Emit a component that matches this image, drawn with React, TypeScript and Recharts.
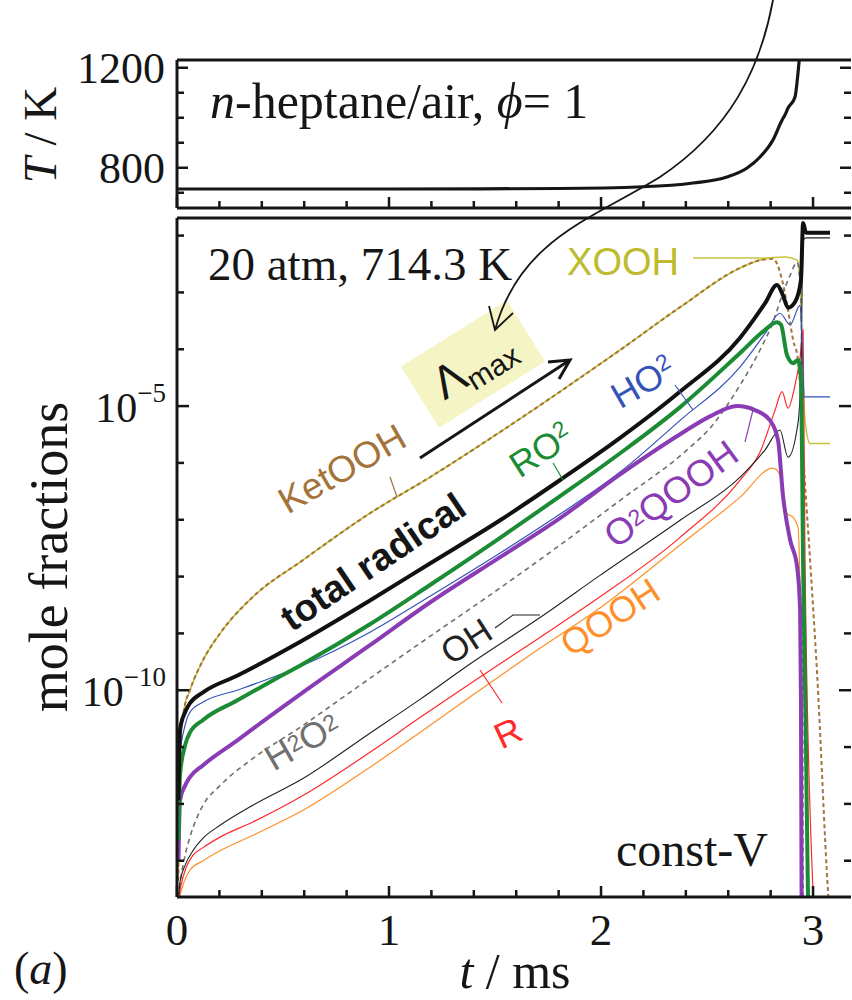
import { LineChart, Line, XAxis, YAxis } from "recharts";

const SERIF = '"Liberation Serif", "Times New Roman", serif';
const SANS = '"Liberation Sans", Arial, sans-serif';
const INK = "#161616";

// time axis, ms
const timeDomain = [0, 3.179];
const timeTicks = [0, 0.2, 0.4, 0.6, 0.8, 1, 1.2, 1.4, 1.6, 1.8, 2, 2.2, 2.4, 2.6, 2.8, 3];

// top panel: temperature
const tempTime = [0, 1.0, 1.8, 2.198, 2.434, 2.594, 2.689, 2.75, 2.811, 2.854, 2.868, 2.882, 2.915, 2.929, 2.934, 2.945];
const tempKelvin = [715, 715, 717, 724, 739, 763, 799, 843, 911, 991, 1012, 1039, 1083, 1179, 1223, 1300];
const tempDomain = [639, 1231];
const tempTicks = [700, 800, 900, 1000, 1100, 1200];
const tempLabelled = [800, 1200];

// bottom panel: mole fractions (log)
const fracDomain = [2.3e-14, 2.04e-2];
const fracTicks = [1e-13, 1e-12, 1e-11, 1e-10, 1e-9, 1e-8, 1e-7, 1e-6, 1e-5, 1e-4, 1e-3, 1e-2];
const fracLabelled = [-10, -5];

const radicalTime = [0.007, 0.014, 0.038, 0.061, 0.123, 0.283, 0.594, 0.91, 1.193, 1.524, 1.807, 2.09, 2.373, 2.656, 2.774, 2.83, 2.858, 2.882, 2.915, 2.943, 2.953, 2.967, 3.08];
const radicalFrac = [1.15e-12, 2.0e-11, 4.1e-11, 5.9e-11, 9.2e-11, 1.8e-10, 7.6e-10, 3.8e-9, 1.7e-8, 9.8e-8, 5.0e-7, 2.75e-6, 1.8e-5, 1.6e-4, 6.5e-4, 1.35e-3, 8.9e-4, 5.4e-4, 6.8e-4, 1.66e-3, 1.66e-2, 1.12e-2, 1.12e-2];

const ketTime = [0.006, 0.014, 0.033, 0.061, 0.123, 0.203, 0.358, 0.594, 0.91, 1.193, 1.524, 1.807, 2.09, 2.373, 2.656, 2.75, 2.811, 2.854, 2.882, 2.906, 2.929, 2.943, 2.953, 2.986, 3.019, 3.071, 3.08];
const ketFrac = [4.5e-14, 1.0e-11, 4.5e-11, 1.0e-10, 3.4e-10, 1.0e-9, 4.4e-9, 1.95e-8, 1.3e-7, 5.6e-7, 3.5e-6, 1.8e-5, 9.7e-5, 5.5e-4, 2.7e-3, 3.7e-3, 3.9e-3, 1.65e-3, 4.9e-4, 1.45e-4, 6.5e-5, 1.3e-5, 1.9e-6, 1.95e-8, 2.0e-10, 2.7e-14, 8.9e-15];

const xoohTime = [0.006, 0.014, 0.033, 0.061, 0.123, 0.203, 0.358, 0.594, 0.91, 1.193, 1.524, 1.807, 2.09, 2.373, 2.656, 2.75, 2.811, 2.868, 2.925, 2.939, 2.948, 2.962, 2.986, 3.08];
const xoohFrac = [4.5e-14, 1.0e-11, 4.5e-11, 1.0e-10, 3.4e-10, 1.0e-9, 4.4e-9, 1.95e-8, 1.3e-7, 5.6e-7, 3.5e-6, 1.8e-5, 9.7e-5, 5.5e-4, 2.7e-3, 3.7e-3, 4.1e-3, 4.2e-3, 3.7e-3, 1.65e-3, 9.7e-5, 5.6e-6, 2.2e-6, 2.2e-6];

const ho2Time = [0.007, 0.014, 0.038, 0.061, 0.123, 0.283, 0.415, 0.594, 0.91, 1.193, 1.524, 1.807, 2.09, 2.373, 2.656, 2.774, 2.844, 2.892, 2.939, 2.948, 2.958, 3.08];
const ho2Frac = [5.1e-13, 7.2e-12, 2.4e-11, 4.1e-11, 6.2e-11, 1.0e-10, 1.5e-10, 2.75e-10, 1.05e-9, 4.5e-9, 2.6e-8, 1.26e-7, 6.9e-7, 5.6e-6, 4.9e-5, 1.9e-4, 4.3e-4, 2.7e-4, 6.0e-4, 1.45e-4, 1.45e-5, 1.45e-5];

const ro2Time = [0.007, 0.014, 0.038, 0.061, 0.123, 0.283, 0.439, 0.594, 0.91, 1.193, 1.524, 1.807, 2.09, 2.373, 2.656, 2.774, 2.83, 2.849, 2.877, 2.906, 2.929, 2.943, 2.953, 2.967, 2.976, 2.981];
const ro2Frac = [2.3e-13, 3.2e-12, 1.07e-11, 1.8e-11, 3.0e-11, 6.6e-11, 1.4e-10, 2.9e-10, 1.45e-9, 7.1e-9, 4.8e-8, 2.6e-7, 1.48e-6, 9.6e-6, 8.6e-5, 2.2e-4, 3.0e-4, 2.7e-4, 7.9e-5, 5.7e-5, 6.5e-5, 2.9e-5, 1.95e-8, 8.7e-12, 2.7e-14, 8.9e-15];

const o2qoohTime = [0.007, 0.014, 0.038, 0.061, 0.123, 0.283, 0.439, 0.594, 0.91, 1.193, 1.524, 1.807, 2.09, 2.373, 2.514, 2.642, 2.726, 2.797, 2.835, 2.858, 2.892, 2.925, 2.939, 2.943, 2.946, 2.948];
const o2qoohFrac = [1.0e-13, 1.15e-12, 2.1e-12, 2.95e-12, 4.8e-12, 1.3e-11, 3.5e-11, 9.2e-11, 6.2e-10, 3.5e-9, 2.2e-8, 1.07e-7, 6.3e-7, 3.2e-6, 6.6e-6, 1.0e-5, 8.5e-6, 5.6e-6, 2.5e-6, 2.7e-7, 4.4e-8, 1.47e-8, 2.6e-9, 6.6e-11, 2.0e-14, 8.9e-15];

const h2o2Time = [0.008, 0.014, 0.038, 0.061, 0.123, 0.203, 0.358, 0.594, 0.83, 1.146, 1.524, 1.807, 2.09, 2.406, 2.514, 2.656, 2.75, 2.811, 2.858, 2.892, 2.925, 2.943, 2.95, 2.953, 2.955];
const h2o2Frac = [2.3e-14, 3.7e-14, 1.24e-13, 2.6e-13, 9.5e-13, 2.1e-12, 6.3e-12, 2.4e-11, 1.0e-10, 6.7e-10, 6.3e-9, 3.6e-8, 2.2e-7, 1.7e-6, 4.1e-6, 2.35e-5, 9.7e-5, 3.0e-4, 9.8e-4, 2.0e-3, 3.4e-3, 7.4e-4, 2.2e-7, 2.3e-14, 8.9e-15];

const ohTime = [0.008, 0.014, 0.038, 0.075, 0.123, 0.203, 0.358, 0.594, 0.91, 1.146, 1.382, 1.712, 1.995, 2.373, 2.656, 2.774, 2.844, 2.882, 2.929, 2.943, 2.953, 2.967, 3.08];
const ohFrac = [2.3e-14, 4.2e-14, 8.3e-14, 1.5e-13, 2.5e-13, 4.2e-13, 9.5e-13, 2.8e-12, 1.75e-11, 6.9e-11, 2.9e-10, 1.9e-9, 1.05e-8, 9.8e-8, 5.6e-7, 1.7e-6, 3.8e-6, 1.26e-6, 5.0e-6, 4.3e-5, 8.3e-3, 9.1e-3, 9.1e-3];

const rTime = [0.009, 0.019, 0.042, 0.075, 0.123, 0.203, 0.358, 0.594, 0.91, 1.146, 1.382, 1.712, 1.995, 2.373, 2.656, 2.75, 2.821, 2.854, 2.882, 2.915, 2.939, 2.953, 2.962, 3.0, 3.005];
const rFrac = [2.3e-14, 3.7e-14, 7.4e-14, 1.24e-13, 1.7e-13, 2.6e-13, 4.8e-13, 1.4e-12, 8.1e-12, 3.3e-11, 1.3e-10, 8.5e-10, 4.4e-9, 4.9e-8, 5.0e-7, 1.55e-6, 8.5e-6, 1.8e-5, 9.2e-6, 2.35e-5, 7.3e-5, 2.2e-4, 1.95e-8, 2.7e-14, 8.9e-15];

const qoohTime = [0.012, 0.028, 0.061, 0.123, 0.203, 0.358, 0.594, 0.91, 1.146, 1.382, 1.712, 1.995, 2.373, 2.656, 2.811, 2.844, 2.877, 2.906, 2.929, 2.939, 2.943, 2.948, 2.95];
const qoohFrac = [2.3e-14, 3.7e-14, 6.8e-14, 1.0e-13, 1.5e-13, 2.8e-13, 7.7e-13, 4.4e-12, 1.8e-11, 7.6e-11, 5.5e-10, 2.8e-9, 3.6e-8, 2.5e-7, 8.1e-7, 6.1e-7, 1.3e-7, 1.1e-7, 7.4e-8, 3.8e-9, 8.7e-12, 2.3e-14, 8.9e-15];

const zip = (ts: number[], vs: number[]) => ts.map((t, i) => ({ t, v: vs[i] }));

const tempData = zip(tempTime, tempKelvin);

// drawing order: thin lines first, thick ones on top
const species = [
  { key: "xooh", data: zip(xoohTime, xoohFrac), color: "#c6c43c", width: 1.6 },
  { key: "ket", data: zip(ketTime, ketFrac), color: "#a3733a", width: 2, dash: "4 3" },
  { key: "h2o2", data: zip(h2o2Time, h2o2Frac), color: "#707070", width: 1.6, dash: "5 4" },
  { key: "qooh", data: zip(qoohTime, qoohFrac), color: "#ff8f2a", width: 1.2 },
  { key: "r", data: zip(rTime, rFrac), color: "#ff2a2a", width: 1.2 },
  { key: "oh", data: zip(ohTime, ohFrac), color: "#222222", width: 1.1 },
  { key: "ho2", data: zip(ho2Time, ho2Frac), color: "#3552b8", width: 1.2 },
  { key: "o2qooh", data: zip(o2qoohTime, o2qoohFrac), color: "#8a3cb4", width: 4 },
  { key: "ro2", data: zip(ro2Time, ro2Frac), color: "#1c8c34", width: 4 },
  { key: "radical", data: zip(radicalTime, radicalFrac), color: "#111111", width: 4 },
];

const isMajorTime = (v: number) => Math.abs(v - Math.round(v)) < 1e-6;

// ticks point into the frame; labels only where the reference has them
function timeTick(side: "top" | "bottom", labels: boolean) {
  return (p: any) => {
    const v = p.payload.value;
    const major = isMajorTime(v);
    const dir = side === "bottom" ? -1 : 1;
    return (
      <g>
        <line x1={p.x} x2={p.x} y1={p.y} y2={p.y + dir * (major ? 11 : 7)} stroke={INK} strokeWidth={2.5} />
        {labels && major && (
          <text x={p.x} y={p.y + 48} textAnchor="middle" fontFamily={SERIF} fontSize={45} fill={INK}>
            {Math.round(v)}
          </text>
        )}
      </g>
    );
  };
}

function tempTick(side: "left" | "right") {
  return (p: any) => {
    const v = p.payload.value;
    const major = tempLabelled.includes(v);
    const dir = side === "left" ? 1 : -1;
    return (
      <g>
        <line x1={p.x} x2={p.x + dir * (major ? 11 : 7)} y1={p.y} y2={p.y} stroke={INK} strokeWidth={2.5} />
        {side === "left" && major && (
          <text x={p.x - 12} y={p.y + 15} textAnchor="end" fontFamily={SERIF} fontSize={44} fill={INK}>
            {v}
          </text>
        )}
      </g>
    );
  };
}

function fracTick(side: "left" | "right") {
  return (p: any) => {
    const exp = Math.round(Math.log10(p.payload.value));
    const major = fracLabelled.includes(exp);
    const dir = side === "left" ? 1 : -1;
    return (
      <g>
        <line x1={p.x} x2={p.x + dir * (major ? 12 : 7)} y1={p.y} y2={p.y} stroke={INK} strokeWidth={2.5} />
        {side === "left" && major && (
          <text x={p.x - 11} y={p.y + 16} textAnchor="end" fontFamily={SERIF} fontSize={42} fill={INK}>
            10
            <tspan dy={-20} fontSize={27}>
              {"\u2212" + -exp}
            </tspan>
          </text>
        )}
      </g>
    );
  };
}

const frameLine = { stroke: INK, strokeWidth: 3 };

function TemperaturePanel() {
  return (
    <LineChart width={852} height={215} margin={{ top: 59, right: 0, bottom: 6, left: 0 }}>
      <XAxis xAxisId="b" type="number" dataKey="t" domain={timeDomain} ticks={timeTicks} interval={0}
        height={1} tickSize={0} tickMargin={0} axisLine={frameLine} tickLine={false} tick={timeTick("bottom", false)} />
      <XAxis xAxisId="t" orientation="top" type="number" dataKey="t" domain={timeDomain} ticks={timeTicks} interval={0}
        height={1} tickSize={0} tickMargin={0} axisLine={frameLine} tickLine={false} tick={timeTick("top", false)} />
      <YAxis yAxisId="l" type="number" domain={tempDomain} ticks={tempTicks} interval={0} allowDataOverflow
        width={177} tickSize={0} tickMargin={0} axisLine={frameLine} tickLine={false} tick={tempTick("left")} />
      <YAxis yAxisId="r" orientation="right" type="number" domain={tempDomain} ticks={tempTicks} interval={0}
        allowDataOverflow width={1} tickSize={0} tickMargin={0} axisLine={false} tickLine={false} tick={tempTick("right")} />
      <Line xAxisId="b" yAxisId="l" data={tempData} dataKey="v" type="monotone" stroke={INK}
        strokeWidth={3.2} dot={false} isAnimationActive={false} />
    </LineChart>
  );
}

function FractionPanel() {
  return (
    <LineChart width={852} height={1000} margin={{ top: 217, right: 0, bottom: 102, left: 0 }}>
      <XAxis xAxisId="b" type="number" dataKey="t" domain={timeDomain} ticks={timeTicks} interval={0}
        height={1} tickSize={0} tickMargin={0} axisLine={frameLine} tickLine={false} tick={timeTick("bottom", true)} />
      <XAxis xAxisId="t" orientation="top" type="number" dataKey="t" domain={timeDomain} ticks={timeTicks} interval={0}
        height={1} tickSize={0} tickMargin={0} axisLine={frameLine} tickLine={false} tick={timeTick("top", false)} />
      <YAxis yAxisId="l" type="number" scale="log" domain={fracDomain} ticks={fracTicks} interval={0} allowDataOverflow
        width={177} tickSize={0} tickMargin={0} axisLine={frameLine} tickLine={false} tick={fracTick("left")} />
      <YAxis yAxisId="r" orientation="right" type="number" scale="log" domain={fracDomain} ticks={fracTicks} interval={0}
        allowDataOverflow width={1} tickSize={0} tickMargin={0} axisLine={false} tickLine={false} tick={fracTick("right")} />
      {species.map((s) => (
        <Line key={s.key} xAxisId="b" yAxisId="l" data={s.data} dataKey="v" type="monotone" stroke={s.color}
          strokeWidth={s.width} strokeDasharray={s.dash} dot={false} isAnimationActive={false} />
      ))}
    </LineChart>
  );
}

function Tag({ x, y, angle = -33, color, size = 36, bold = false, children }: any) {
  return (
    <text x={x} y={y} transform={`rotate(${angle} ${x} ${y})`} textAnchor="middle" dominantBaseline="central"
      fill={color} fontFamily={SANS} fontSize={size} fontWeight={bold ? 700 : 400}>
      {children}
    </text>
  );
}

function Annotations() {
  return (
    <svg width={852} height={1000} style={{ position: "absolute", left: 0, top: 0, pointerEvents: "none" }}>
      {/* axis titles and panel notes */}
      <text transform="rotate(-90 56 135)" x={56} y={135} textAnchor="middle" fontFamily={SERIF} fontSize={47} fill={INK}>
        <tspan fontStyle="italic">T</tspan> / K
      </text>
      <text transform="rotate(-90 67 557)" x={67} y={557} textAnchor="middle" fontFamily={SERIF} fontSize={54} fill={INK}>
        mole fractions
      </text>
      <text x={515} y={988} textAnchor="middle" fontFamily={SERIF} fontSize={50} fill={INK}>
        <tspan fontStyle="italic">t</tspan> / ms
      </text>
      <text x={14} y={984} fontFamily={SERIF} fontSize={46} fill={INK}>
        (<tspan fontStyle="italic">a</tspan>)
      </text>
      <text x={210} y={118} fontFamily={SERIF} fontSize={50} fill={INK}>
        <tspan fontStyle="italic">n</tspan>-heptane/air, <tspan fontStyle="italic">ϕ</tspan>= 1
      </text>
      <text x={208} y={280} fontFamily={SERIF} fontSize={47} fill={INK}>
        20 atm, 714.3 K
      </text>
      <text x={616} y={866} fontFamily={SERIF} fontSize={48} fill={INK}>
        const-V
      </text>

      {/* lambda max box and arrows */}
      <rect x={410.5} y={328} width={125} height={72} fill="#f4f4c4" transform="rotate(-32 473 364)" />
      <text x={473} y={380} transform="rotate(-32 473 364)" textAnchor="middle" fontFamily={SANS} fontSize={46} fill={INK}>
        Λ<tspan fontSize={30} dy={8}>max</tspan>
      </text>
      <line x1={420} y1={458} x2={570} y2={360} stroke={INK} strokeWidth={3} />
      <polyline points="548,362 570,360 559,379" fill="none" stroke={INK} strokeWidth={3} />
      <path d="M773,0 C760,70 730,130 660,177 C590,220 520,240 495,330" fill="none" stroke={INK} strokeWidth={1.8} />
      <polyline points="489,306 495,330 513,313" fill="none" stroke={INK} strokeWidth={1.8} />

      {/* species tags and leader lines */}
      <Tag x={623} y={262} angle={0} size={38} color="#bdbb2e">XOOH</Tag>
      <line x1={693} y1={258} x2={770} y2={258} stroke="#c6c43c" strokeWidth={1.3} />
      <Tag x={342} y={469} angle={-30} size={37} color="#a3733a">KetOOH</Tag>
      <line x1={390} y1={477} x2={397} y2={497} stroke="#a3733a" strokeWidth={1.2} />
      <Tag x={373} y={562} angle={-34} color={INK} size={38} bold>total radical</Tag>
      <Tag x={541} y={450} angle={-33} color="#1c8c34">
        RO<tspan fontSize={23} dy={-7}>2</tspan>
      </Tag>
      <line x1={553} y1={463} x2={563} y2={480} stroke="#1c8c34" strokeWidth={1.2} />
      <Tag x={643} y={382} angle={-30} color="#3552b8">
        HO<tspan fontSize={23} dy={-7}>2</tspan>
      </Tag>
      <line x1={675} y1={385} x2={693} y2={410} stroke="#3552b8" strokeWidth={1.2} />
      <Tag x={671} y={494} angle={-36} size={37} color="#8a3cb4">
        O<tspan fontSize={23} dy={-2}>2</tspan>
        <tspan dy={2}>QOOH</tspan>
      </Tag>
      <line x1={753} y1={410} x2={745} y2={442} stroke="#8a3cb4" strokeWidth={1.2} />
      <Tag x={466} y={641} angle={-33} size={35} color="#222222">OH</Tag>
      <polyline points="495,628 513,615 540,615" fill="none" stroke="#222222" strokeWidth={1.1} />
      <Tag x={302} y={741} angle={-30} color="#707070">
        H<tspan fontSize={23} dy={-2}>2</tspan>
        <tspan dy={2}>O</tspan>
        <tspan fontSize={23} dy={-2}>2</tspan>
      </Tag>
      <Tag x={508} y={733} angle={-25} color="#ff2a2a">R</Tag>
      <line x1={480} y1={670} x2={502} y2={703} stroke="#ff2a2a" strokeWidth={1.2} />
      <Tag x={610} y={617} angle={-33} color="#ff8f2a">QOOH</Tag>
    </svg>
  );
}

export default function App() {
  return (
    <div style={{ position: "absolute", left: 0, top: 0, width: 852, height: 1000, background: "#fff" }}>
      <div style={{ position: "absolute", left: 0, top: 0 }}>
        <FractionPanel />
      </div>
      <div style={{ position: "absolute", left: 0, top: 0 }}>
        <TemperaturePanel />
      </div>
      <Annotations />
    </div>
  );
}
